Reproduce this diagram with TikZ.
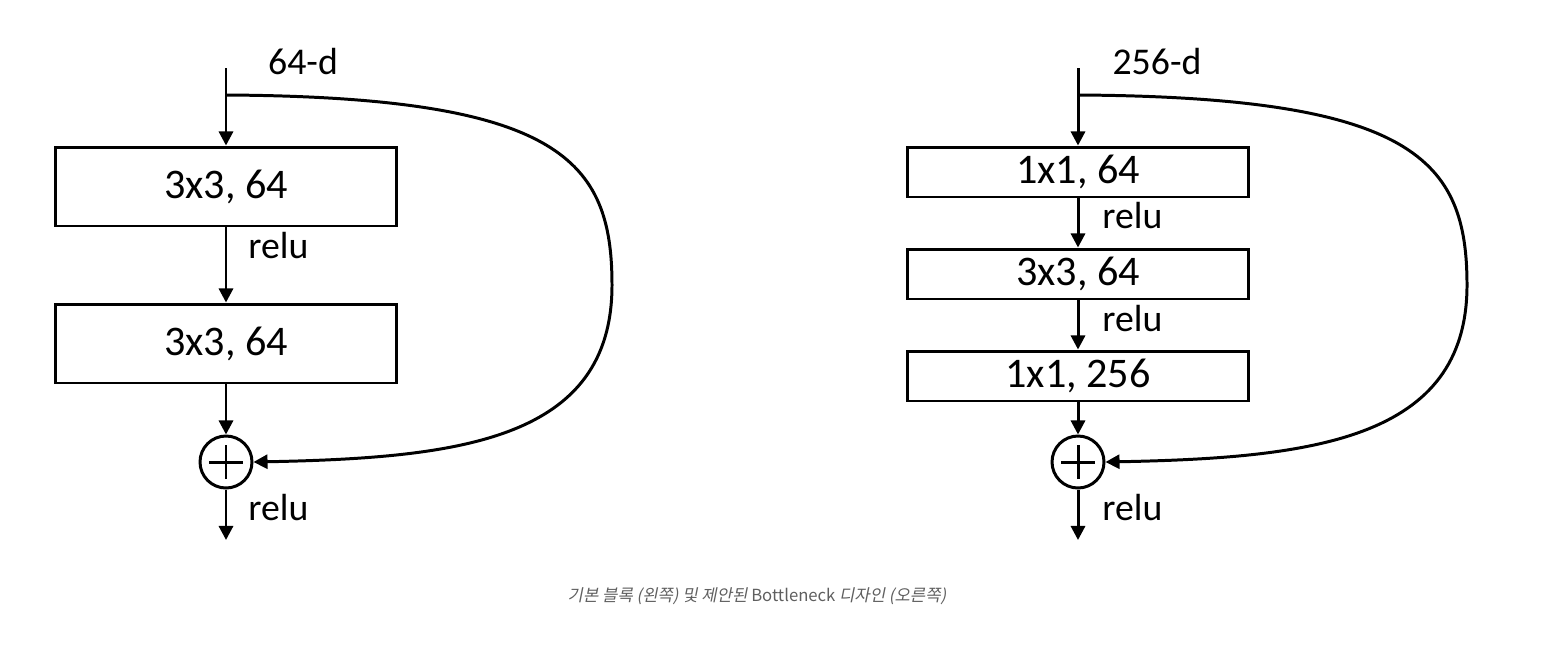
\documentclass[tikz,border=0pt]{standalone}
\usepackage{fontspec}
\setmainfont{Carlito}
\newfontfamily\krfont[FakeSlant=0.2]{Noto Sans CJK KR}
\newfontfamily\latfont{Noto Sans CJK KR}
\usetikzlibrary{arrows.meta}
\definecolor{capgray}{RGB}{95,95,95}
\tikzset{
  layer/.style={draw, line width=1.7pt, inner sep=0pt, minimum width=6.82cm,
    font=\fontsize{24}{24}\selectfont},
  tag/.style={inner sep=0pt, font=\fontsize{21.5}{21.5}\selectfont},
  flow/.style={line width=1.7pt, -{Triangle[length=8pt,width=8pt]}},
  addop/.style={draw, circle, line width=1.7pt, minimum size=1.04cm, inner sep=0pt},
}

\begin{document}
\begin{tikzpicture}[x=0.02cm, y=-0.02cm]
\useasboundingbox (0,0) rectangle (1550,660);

% basic block
\coordinate (inA) at (226,68);
\coordinate (splitA) at (226,95);
\coordinate (outA) at (226,540);
\node[tag] (dimA) at (303,62) {64-d};
\node[layer, minimum height=1.58cm] (a1) at (226,186.5) {3x3, 64};
\node[layer, minimum height=1.58cm] (a2) at (226,343.5) {3x3, 64};
\node[addop] (addA) at (226,462) {};
\node[tag, anchor=west] (reluA1) at (248,246) {relu};
\node[tag, anchor=west] (reluA2) at (248,508) {relu};

\draw[flow] (inA) -- (a1);
\draw[flow] (a1) -- (a2);
\draw[flow] (a2) -- (addA);
\draw[flow] (addA) -- (outA);
\draw[flow] (splitA) .. controls (560,97) and (612,160) .. (612,285)
  .. controls (612,440) and (460,458) .. (addA.east);
\draw[line width=1.7pt] ([xshift=-0.34cm]addA.center) -- ([xshift=0.34cm]addA.center)
  ([yshift=-0.34cm]addA.center) -- ([yshift=0.34cm]addA.center);

% bottleneck block
\coordinate (inB) at (1078,68);
\coordinate (splitB) at (1078,95);
\coordinate (outB) at (1078,540);
\node[tag] (dimB) at (1157,62) {256-d};
\node[layer, minimum height=1cm] (b1) at (1078,172) {1x1, 64};
\node[layer, minimum height=1cm] (b2) at (1078,274) {3x3, 64};
\node[layer, minimum height=1cm] (b3) at (1078,376) {1x1, 256};
\node[addop] (addB) at (1078,462) {};
\node[tag, anchor=west] (reluB1) at (1102,216) {relu};
\node[tag, anchor=west] (reluB2) at (1102,319) {relu};
\node[tag, anchor=west] (reluB3) at (1102,508) {relu};

\draw[flow] (inB) -- (b1);
\draw[flow] (b1) -- (b2);
\draw[flow] (b2) -- (b3);
\draw[flow] (b3) -- (addB);
\draw[flow] (addB) -- (outB);
\draw[flow] (splitB) .. controls (1414,97) and (1467,160) .. (1467,285)
  .. controls (1467,440) and (1312,458) .. (addB.east);
\draw[line width=1.7pt] ([xshift=-0.34cm]addB.center) -- ([xshift=0.34cm]addB.center)
  ([yshift=-0.34cm]addB.center) -- ([yshift=0.34cm]addB.center);

\node[text=capgray, font=\fontsize{9.5}{9.5}\selectfont] (caption) at (757,596)
  {\krfont 기본 블록 (왼쪽) 및 제안된 \latfont Bottleneck \krfont 디자인 (오른쪽)};
\end{tikzpicture}
\end{document}
